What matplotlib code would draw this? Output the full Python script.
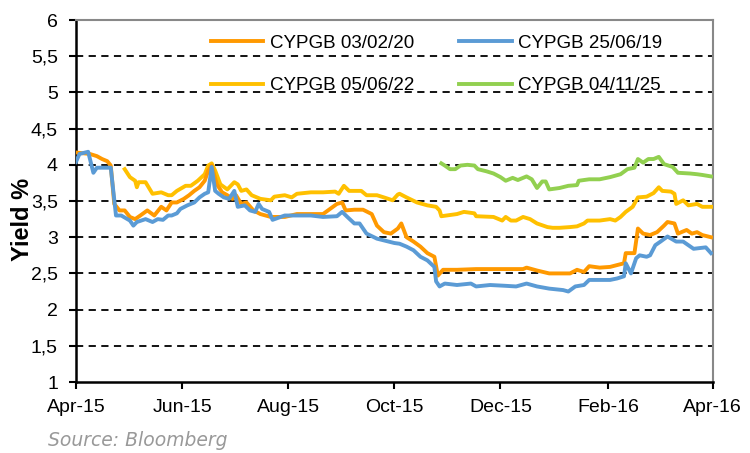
import pandas as pd
import matplotlib
matplotlib.use("Agg")
from matplotlib import pyplot as plt
import matplotlib.dates as mdates
from matplotlib.ticker import FuncFormatter

plt.rcParams['font.family'] = ['Liberation Sans', 'DejaVu Sans']

# CYPGB 25/06/19
blue_dates = ["2015-04-01", "2015-04-03", "2015-04-08", "2015-04-11", "2015-04-13", "2015-04-21",
              "2015-04-24", "2015-04-27", "2015-05-02", "2015-05-04", "2015-05-06", "2015-05-11",
              "2015-05-15", "2015-05-18", "2015-05-21", "2015-05-24", "2015-05-26", "2015-05-29",
              "2015-05-31", "2015-06-04", "2015-06-08", "2015-06-11", "2015-06-14", "2015-06-16",
              "2015-06-18", "2015-06-20", "2015-06-22", "2015-06-25", "2015-06-28", "2015-07-01",
              "2015-07-03", "2015-07-07", "2015-07-10", "2015-07-13", "2015-07-15", "2015-07-17",
              "2015-07-21", "2015-07-23", "2015-07-30", "2015-08-06", "2015-08-14", "2015-08-21",
              "2015-08-29", "2015-09-01", "2015-09-04", "2015-09-08", "2015-09-11", "2015-09-15",
              "2015-09-21", "2015-09-26", "2015-10-01", "2015-10-04", "2015-10-08", "2015-10-12",
              "2015-10-16", "2015-10-20", "2015-10-24", "2015-10-25", "2015-10-27", "2015-10-30",
              "2015-11-06", "2015-11-14", "2015-11-17", "2015-11-25", "2015-12-03", "2015-12-10",
              "2015-12-16", "2015-12-22", "2015-12-29", "2016-01-06", "2016-01-09", "2016-01-13",
              "2016-01-18", "2016-01-21", "2016-01-27", "2016-02-02", "2016-02-06", "2016-02-10",
              "2016-02-11", "2016-02-14", "2016-02-17", "2016-02-19", "2016-02-23", "2016-02-25",
              "2016-02-28", "2016-03-02", "2016-03-06", "2016-03-11", "2016-03-15", "2016-03-21",
              "2016-03-28", "2016-03-31"]
blue_vals = [4.04, 4.15, 4.18, 3.89, 3.96, 3.96,
             3.30, 3.30, 3.23, 3.16, 3.21, 3.25,
             3.21, 3.25, 3.24, 3.30, 3.30, 3.33,
             3.39, 3.44, 3.48, 3.55, 3.60, 3.62,
             3.97, 3.64, 3.60, 3.55, 3.53, 3.64,
             3.42, 3.44, 3.37, 3.35, 3.46, 3.39,
             3.35, 3.24, 3.30, 3.30, 3.30, 3.28,
             3.29, 3.35, 3.28, 3.19, 3.19, 3.05,
             2.98, 2.95, 2.92, 2.91, 2.87, 2.82,
             2.73, 2.68, 2.59, 2.39, 2.32, 2.36,
             2.34, 2.36, 2.32, 2.34, 2.33, 2.32,
             2.36, 2.32, 2.29, 2.27, 2.25, 2.32,
             2.34, 2.41, 2.41, 2.41, 2.43, 2.46,
             2.64, 2.50, 2.71, 2.75, 2.73, 2.75,
             2.89, 2.94, 3.01, 2.94, 2.94, 2.84,
             2.86, 2.78]

# CYPGB 03/02/20
orange_dates = ["2015-04-01", "2015-04-09", "2015-04-13", "2015-04-16", "2015-04-19", "2015-04-21",
                "2015-04-23", "2015-04-26", "2015-04-29", "2015-05-02", "2015-05-05", "2015-05-08",
                "2015-05-12", "2015-05-16", "2015-05-20", "2015-05-23", "2015-05-26", "2015-05-29",
                "2015-06-02", "2015-06-05", "2015-06-08", "2015-06-11", "2015-06-14", "2015-06-16",
                "2015-06-18", "2015-06-21", "2015-06-24", "2015-06-27", "2015-06-30", "2015-07-02",
                "2015-07-05", "2015-07-08", "2015-07-12", "2015-07-16", "2015-07-22", "2015-07-30",
                "2015-08-06", "2015-08-14", "2015-08-21", "2015-08-25", "2015-08-29", "2015-09-01",
                "2015-09-03", "2015-09-08", "2015-09-13", "2015-09-18", "2015-09-21", "2015-09-25",
                "2015-09-29", "2015-10-03", "2015-10-05", "2015-10-08", "2015-10-12", "2015-10-16",
                "2015-10-20", "2015-10-24", "2015-10-26", "2015-10-29", "2015-11-06", "2015-11-17",
                "2015-12-03", "2015-12-14", "2015-12-16", "2015-12-22", "2015-12-29", "2016-01-10",
                "2016-01-14", "2016-01-18", "2016-01-21", "2016-01-27", "2016-02-02", "2016-02-10",
                "2016-02-11", "2016-02-16", "2016-02-18", "2016-02-21", "2016-02-25", "2016-02-29",
                "2016-03-04", "2016-03-06", "2016-03-10", "2016-03-12", "2016-03-17", "2016-03-20",
                "2016-03-23", "2016-03-26", "2016-03-31"]
orange_vals = [4.17, 4.15, 4.12, 4.08, 4.05, 3.99,
               3.46, 3.37, 3.37, 3.28, 3.25, 3.30,
               3.37, 3.30, 3.42, 3.37, 3.48, 3.48,
               3.53, 3.58, 3.64, 3.69, 3.78, 3.92,
               3.99, 3.73, 3.62, 3.58, 3.53, 3.58,
               3.46, 3.48, 3.37, 3.32, 3.28, 3.28,
               3.32, 3.32, 3.32, 3.39, 3.46, 3.48,
               3.37, 3.38, 3.38, 3.32, 3.16, 3.07,
               3.05, 3.12, 3.19, 3.00, 2.94, 2.87,
               2.78, 2.73, 2.47, 2.55, 2.55, 2.56,
               2.56, 2.56, 2.58, 2.54, 2.50, 2.50,
               2.55, 2.52, 2.60, 2.58, 2.59, 2.64,
               2.78, 2.78, 3.12, 3.05, 3.03, 3.07,
               3.16, 3.21, 3.19, 3.05, 3.10, 3.05,
               3.07, 3.03, 3.00]

# CYPGB 05/06/22
yellow_dates = ["2015-04-29", "2015-05-02", "2015-05-05", "2015-05-06", "2015-05-07", "2015-05-11",
                "2015-05-15", "2015-05-20", "2015-05-24", "2015-05-26", "2015-05-29", "2015-06-03",
                "2015-06-06", "2015-06-10", "2015-06-14", "2015-06-16", "2015-06-18", "2015-06-20",
                "2015-06-23", "2015-06-27", "2015-07-01", "2015-07-03", "2015-07-05", "2015-07-08",
                "2015-07-11", "2015-07-16", "2015-07-22", "2015-07-24", "2015-07-30", "2015-08-03",
                "2015-08-06", "2015-08-14", "2015-08-21", "2015-08-28", "2015-08-30", "2015-09-02",
                "2015-09-05", "2015-09-12", "2015-09-15", "2015-09-21", "2015-09-25", "2015-09-30",
                "2015-10-03", "2015-10-04", "2015-10-08", "2015-10-14", "2015-10-20", "2015-10-25",
                "2015-10-27", "2015-10-28", "2015-11-06", "2015-11-10", "2015-11-16", "2015-11-17",
                "2015-11-27", "2015-12-02", "2015-12-04", "2015-12-07", "2015-12-10", "2015-12-14",
                "2015-12-18", "2015-12-22", "2015-12-28", "2015-12-31", "2016-01-04", "2016-01-10",
                "2016-01-14", "2016-01-18", "2016-01-20", "2016-01-27", "2016-02-02", "2016-02-05",
                "2016-02-08", "2016-02-11", "2016-02-15", "2016-02-18", "2016-02-23", "2016-02-27",
                "2016-03-01", "2016-03-03", "2016-03-08", "2016-03-10", "2016-03-11", "2016-03-15",
                "2016-03-18", "2016-03-23", "2016-03-26", "2016-03-31"]
yellow_vals = [3.94, 3.83, 3.78, 3.69, 3.76, 3.76,
               3.60, 3.62, 3.58, 3.58, 3.64, 3.71,
               3.71, 3.78, 3.87, 3.99, 4.02, 3.92,
               3.73, 3.66, 3.76, 3.73, 3.64, 3.66,
               3.58, 3.53, 3.51, 3.56, 3.58, 3.55,
               3.60, 3.62, 3.62, 3.63, 3.60, 3.71,
               3.64, 3.64, 3.58, 3.58, 3.55, 3.51,
               3.59, 3.60, 3.55, 3.48, 3.44, 3.42,
               3.37, 3.29, 3.32, 3.35, 3.33, 3.29,
               3.28, 3.23, 3.28, 3.23, 3.23, 3.28,
               3.25, 3.19, 3.14, 3.13, 3.13, 3.14,
               3.15, 3.19, 3.23, 3.23, 3.25, 3.23,
               3.28, 3.35, 3.42, 3.55, 3.56, 3.61,
               3.69, 3.64, 3.63, 3.60, 3.46, 3.51,
               3.44, 3.46, 3.42, 3.42]

# CYPGB 04/11/25
green_dates = ["2015-10-28", "2015-10-30", "2015-11-02", "2015-11-05", "2015-11-08", "2015-11-12",
               "2015-11-16", "2015-11-18", "2015-11-23", "2015-11-27", "2015-12-01", "2015-12-04",
               "2015-12-08", "2015-12-11", "2015-12-16", "2015-12-19", "2015-12-22", "2015-12-25",
               "2015-12-27", "2015-12-29", "2016-01-04", "2016-01-09", "2016-01-14", "2016-01-15",
               "2016-01-21", "2016-01-27", "2016-02-02", "2016-02-08", "2016-02-12", "2016-02-16",
               "2016-02-18", "2016-02-21", "2016-02-24", "2016-02-27", "2016-03-01", "2016-03-04",
               "2016-03-09", "2016-03-12", "2016-03-19", "2016-03-23", "2016-03-26", "2016-03-31"]
green_vals = [4.02, 3.99, 3.94, 3.94, 3.99, 4.00,
              3.99, 3.94, 3.91, 3.88, 3.83, 3.78,
              3.82, 3.79, 3.84, 3.80, 3.68, 3.77,
              3.77, 3.66, 3.68, 3.71, 3.72, 3.78,
              3.80, 3.80, 3.83, 3.87, 3.94, 3.96,
              4.08, 4.03, 4.08, 4.08, 4.11, 4.01,
              3.97, 3.89, 3.88, 3.87, 3.86, 3.84]

series = {
    "orange": ("CYPGB 03/02/20", orange_dates, orange_vals, "#FF9900"),
    "blue": ("CYPGB 25/06/19", blue_dates, blue_vals, "#5B9BD5"),
    "yellow": ("CYPGB 05/06/22", yellow_dates, yellow_vals, "#FFC000"),
    "green": ("CYPGB 04/11/25", green_dates, green_vals, "#92D050"),
}

fig = plt.figure(figsize=(7.5, 4.53), dpi=100)
ax = fig.add_axes([0.1013, 0.1567, 0.849, 0.7991])

# 网格线
for yv in [1.5, 2, 2.5, 3, 3.5, 4, 4.5, 5, 5.5]:
    ax.axhline(yv, color="black", lw=1.3, ls=(0, (4, 3)), zorder=1)

lines = {}
for k in ["yellow", "green", "orange", "blue"]:
    label, d, v, c = series[k]
    lines[k], = ax.plot(pd.to_datetime(d), v, color=c, lw=2.8, label=label, zorder=3)

ax.set_xlim(pd.Timestamp("2015-04-01"), pd.Timestamp("2016-04-01"))
ax.set_ylim(1, 6)
ax.set_yticks([1, 1.5, 2, 2.5, 3, 3.5, 4, 4.5, 5, 5.5, 6])
ax.yaxis.set_major_formatter(FuncFormatter(lambda y, p: ("%g" % y).replace(".", ",")))
ax.xaxis.set_major_locator(mdates.MonthLocator(bymonth=[2, 4, 6, 8, 10, 12]))
ax.xaxis.set_major_formatter(mdates.DateFormatter("%b-%y"))
ax.tick_params(axis="both", labelsize=14, direction="out", length=5, width=1.5, color="black")
ax.tick_params(axis="y", pad=8)
ax.tick_params(axis="x", pad=7)

for s in ["left", "bottom"]:
    ax.spines[s].set_color("black")
    ax.spines[s].set_linewidth(1.8)
for s in ["top", "right"]:
    ax.spines[s].set_color("#888888")
    ax.spines[s].set_linewidth(1.5)

ax.set_ylabel("Yield %", fontsize=17, fontweight="bold")
ax.yaxis.set_label_coords(-0.066, 0.45)

# 图例：第一行 橙/蓝，第二行 黄/绿
order = ["orange", "yellow", "blue", "green"]
ax.legend([lines[k] for k in order], [series[k][0] for k in order],
          loc="upper left", bbox_to_anchor=(0.197, 0.985), ncol=2, frameon=False,
          fontsize=13.5, handlelength=2.8, labelspacing=1.35, columnspacing=2.4,
          borderpad=0, handletextpad=0.35)

fig.text(0.064, 0.016, "Source: Bloomberg", color="#999999", fontsize=13.5,
         style="italic", family="DejaVu Sans")

plt.savefig("out.png", dpi=100)
